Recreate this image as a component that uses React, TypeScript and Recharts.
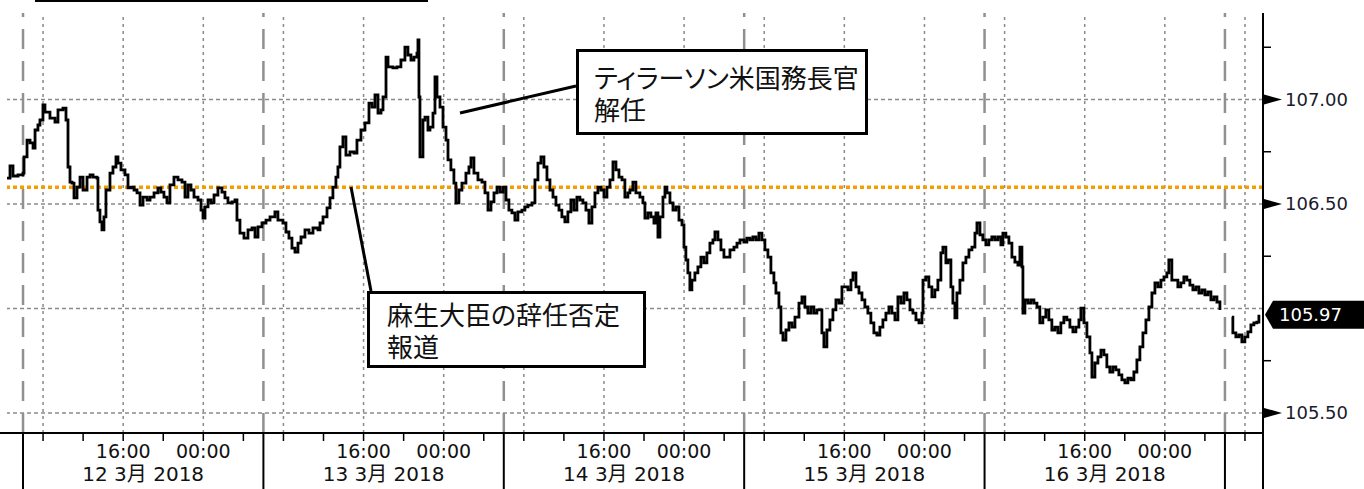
import React from 'react';
import { LineChart, Line, XAxis, YAxis, ReferenceLine } from 'recharts';

// Hours since 12 Mar 2018 00:00
const hours: number[] = [
  4.4, 4.7, 5.0, 5.5, 6.0, 6.1, 6.4, 6.7, 7.0, 7.2, 7.49, 7.69, 7.99, 8.19, 8.69, 9.19, 9.49, 9.99, 10.29, 10.49,
  10.69, 10.89, 11.09, 11.39, 11.69, 11.99, 12.39, 12.69, 12.99, 13.38, 13.48, 13.68, 13.88, 14.08, 14.28, 14.68, 14.98, 15.28, 15.48, 15.78,
  16.18, 16.48, 16.78, 17.08, 17.38, 17.68, 17.98, 18.38, 18.68, 19.08, 19.47, 19.77, 20.07, 20.37, 20.67, 21.07, 21.47, 21.87, 22.17, 22.47,
  22.77, 23.07, 23.47, 23.77, 23.97, 24.17, 24.47, 24.77, 25.07, 25.46, 25.86, 26.16, 26.46, 26.86, 27.16, 27.36, 27.66, 28.06, 28.46, 28.86,
  29.16, 29.46, 29.86, 30.26, 30.66, 31.15, 31.45, 31.95, 32.25, 32.55, 32.85, 33.15, 33.45, 33.75, 34.15, 34.55, 34.95, 35.45,
  35.65, 35.95, 36.35, 36.65, 36.94, 37.24, 37.44, 37.64, 37.94, 38.24, 38.64, 39.04, 39.34, 39.74, 40.14, 40.54, 40.84, 41.14, 41.44, 41.74,
  41.94, 42.24, 42.44, 42.93, 43.33, 43.73, 44.13, 44.43, 44.73, 45.03, 45.33, 45.43, 45.53, 45.63, 45.93, 46.13, 46.43, 46.63, 46.93, 47.13,
  47.33, 47.63, 47.93, 48.23, 48.43, 48.72, 49.02, 49.22, 49.52, 49.82, 50.22, 50.52, 50.72, 51.02, 51.42, 51.82, 52.12, 52.42, 52.72, 53.02,
  53.32, 53.62, 53.92, 54.22, 54.51, 54.81, 55.11, 55.41, 55.81, 56.11, 56.41, 56.81, 57.11, 57.41, 57.71, 58.01, 58.31, 58.61, 58.91, 59.21,
  59.51, 59.8, 60.1, 60.4, 60.7, 61.0, 61.3, 61.6, 61.9, 62.2, 62.5, 62.8, 63.1, 63.4, 63.7, 64.0, 64.3, 64.6, 64.9, 65.2,
  65.5, 65.8, 66.09, 66.39,
  66.59, 66.89, 67.19, 67.59, 67.89, 68.09, 68.39, 68.69, 68.99, 69.19, 69.39, 69.59, 69.89, 70.09, 70.29, 70.59, 70.89, 71.19, 71.49, 71.79,
  71.99, 72.18, 72.38, 72.58, 72.78, 73.08, 73.38, 73.68, 73.98, 74.28, 74.58, 74.88, 75.08, 75.38, 75.68, 75.98, 76.28, 76.58, 76.98, 77.28,
  77.58, 77.97, 78.27, 78.57, 78.87, 79.17, 79.47, 79.77, 80.07, 80.37, 80.67, 80.97, 81.17, 81.47, 81.67, 81.87, 82.17, 82.47, 82.77, 83.07,
  83.47, 83.77, 84.06, 84.36, 84.66, 84.96, 85.26, 85.56, 85.76, 85.96, 86.26, 86.56, 86.86, 87.16, 87.46, 87.76, 88.06, 88.36, 88.66, 88.86,
  89.16, 89.46, 89.76, 90.05, 90.35, 90.65, 90.95, 91.25, 91.55, 91.85, 92.15, 92.45, 92.75, 93.05, 93.35, 93.65, 93.95, 94.25, 94.55, 94.85,
  95.15, 95.45, 95.75, 95.85, 96.14, 96.44, 96.74, 97.04, 97.34, 97.64, 97.84, 98.14,
  98.34, 98.64, 98.84, 99.04, 99.24, 99.54, 99.84, 100.14, 100.44, 100.74, 101.04, 101.24, 101.54, 101.83, 102.13, 102.43, 102.73, 103.03, 103.33, 103.63,
  103.83, 104.13, 104.43, 104.73, 105.03, 105.33, 105.53, 105.73, 105.83, 106.03, 106.33, 106.63, 106.93, 107.23, 107.52, 107.82, 108.12, 108.42, 108.72, 109.02,
  109.32, 109.62, 109.92, 110.22, 110.52, 110.82, 111.12, 111.42, 111.62, 111.92, 112.22, 112.52, 112.72, 113.02, 113.32, 113.62, 113.92, 114.21, 114.51, 114.81,
  115.11, 115.41, 115.71, 116.01, 116.31, 116.61, 116.91, 117.21, 117.51, 117.81, 118.11, 118.41, 118.71, 119.01, 119.31, 119.61, 119.91, 120.2, 120.4, 120.7,
  121.0, 121.3, 121.6, 121.9, 122.2, 122.5, 122.8, 123.1, 123.4, 123.7, 124.0, 124.3, 124.6, 124.9, 125.2, 125.5, 126.0,
  126.69, 126.79, 127.09, 127.39, 127.69, 127.99, 128.29, 128.59, 128.89, 129.19, 129.39,
];

// USD/JPY
const prices: (number | null)[] = [
  106.624, 106.682, 106.634, 106.639, 106.648, 106.725, 106.806, 106.792, 106.768, 106.854, 106.878, 106.902, 106.974, 106.94, 106.911, 106.892, 106.95, 106.959, 106.902, 106.677,
  106.605, 106.6, 106.529, 106.581, 106.629, 106.567, 106.629, 106.639, 106.629, 106.624, 106.471, 106.414, 106.376, 106.438, 106.567, 106.648, 106.677, 106.725, 106.696, 106.663,
  106.639, 106.577, 106.581, 106.567, 106.553, 106.495, 106.533, 106.519, 106.533, 106.553, 106.577, 106.557, 106.533, 106.505, 106.591, 106.629, 106.615, 106.605, 106.533, 106.591,
  106.567, 106.533, 106.519, 106.471, 106.433, 106.486, 106.519, 106.505, 106.543, 106.577, 106.557, 106.529, 106.505, 106.51, 106.519, 106.423, 106.361, 106.337, 106.376, 106.385,
  106.342, 106.39, 106.409, 106.423, 106.438, 106.462, 106.423, 106.409, 106.366, 106.337, 106.289, 106.27, 106.313, 106.342, 106.376, 106.361, 106.385, 106.376,
  106.409, 106.438, 106.481, 106.529, 106.581, 106.629, 106.677, 106.773, 106.821, 106.734, 106.749, 106.744, 106.806, 106.854, 106.888, 106.983, 106.964, 107.022, 106.935, 106.95,
  107.012, 107.203, 107.156, 107.151, 107.156, 107.189, 107.251, 107.213, 107.189, 107.203, 107.222, 107.285, 107.012, 106.725, 106.902, 106.916, 106.854, 106.868, 106.935, 107.108,
  107.012, 106.964, 106.868, 106.806, 106.711, 106.663, 106.6, 106.505, 106.567, 106.6, 106.648, 106.677, 106.72, 106.648, 106.615, 106.605, 106.553, 106.471, 106.51, 106.553,
  106.581, 106.557, 106.581, 106.519, 106.471, 106.457, 106.423, 106.462, 106.471, 106.486, 106.495, 106.505, 106.615, 106.696, 106.725, 106.677, 106.615, 106.567, 106.533, 106.495,
  106.471, 106.438, 106.414, 106.462, 106.519, 106.471, 106.533, 106.519, 106.505, 106.471, 106.409, 106.486, 106.553, 106.581, 106.567, 106.533, 106.581, 106.615, 106.701, 106.663,
  106.629, 106.615, 106.533, 106.553,
  106.567, 106.605, 106.553, 106.533, 106.505, 106.433, 106.457, 106.438, 106.409, 106.457, 106.342, 106.438, 106.533, 106.581, 106.553, 106.505, 106.471, 106.486, 106.423, 106.4,
  106.294, 106.232, 106.17, 106.089, 106.136, 106.17, 106.199, 106.246, 106.218, 106.266, 106.313, 106.328, 106.366, 106.328, 106.28, 106.246, 106.246, 106.28, 106.294, 106.313,
  106.328, 106.318, 106.337, 106.328, 106.342, 106.328, 106.361, 106.328, 106.28, 106.246, 106.17, 106.122, 106.074, 106.007, 105.883, 105.849, 105.897, 105.931, 105.911, 105.959,
  106.026, 106.055, 106.007, 105.978, 106.007, 105.978, 105.993, 105.993, 105.883, 105.816, 105.897, 105.945, 105.993, 106.041, 106.026, 106.103, 106.103, 106.089, 106.136, 106.17,
  106.103, 106.074, 106.041, 106.007, 105.978, 105.931, 105.883, 105.873, 105.911, 105.945, 105.978, 106.007, 105.978, 105.945, 106.055, 106.026, 106.074, 106.041, 105.993, 105.978,
  105.945, 105.931, 105.978, 106.136, 106.151, 106.103, 106.055, 106.089, 106.136, 106.266, 106.294, 106.218,
  106.232, 106.103, 106.026, 105.955, 106.074, 106.136, 106.218, 106.246, 106.28, 106.294, 106.361, 106.409, 106.352, 106.328, 106.304, 106.328, 106.342, 106.328, 106.342, 106.304,
  106.361, 106.342, 106.313, 106.246, 106.222, 106.208, 106.294, 106.199, 105.978, 106.041, 106.026, 106.041, 106.026, 106.007, 105.931, 105.959, 105.993, 105.945, 105.897, 105.911,
  105.883, 105.931, 105.959, 105.945, 105.911, 105.888, 105.911, 105.945, 106.002, 105.931, 105.864, 105.787, 105.672, 105.739, 105.768, 105.801, 105.778, 105.72, 105.696, 105.72,
  105.706, 105.682, 105.658, 105.644, 105.667, 105.658, 105.696, 105.754, 105.816, 105.883, 105.945, 106.007, 106.074, 106.122, 106.103, 106.136, 106.151, 106.17, 106.232, 106.136,
  106.136, 106.103, 106.122, 106.151, 106.136, 106.112, 106.089, 106.103, 106.074, 106.089, 106.065, 106.079, 106.041, 106.055, 106.031, 105.993, null,
  105.959, 105.883, 105.864, 105.873, 105.84, 105.864, 105.888, 105.921, 105.931, 105.935, 105.97,
];

const sessionStarts = [6, 30, 54, 78, 102, 126];
const hourTicks = [8, 12, 16, 20, 24, 28, 32, 36, 40, 44, 48, 52, 56, 60, 64, 68, 72, 76, 80, 84, 88, 92, 96, 100, 104, 108, 112, 116, 120, 124, 128];
const dayCenters = [18, 42, 66, 90, 114];
const dayLabels = ['12 3月 2018', '13 3月 2018', '14 3月 2018', '15 3月 2018', '16 3月 2018'];
const dottedGrid = [8, 16, 24, 32, 40, 48, 56, 64, 72, 80, 88, 96, 104, 112, 120, 128];
const yGrid = [105.5, 106.0, 106.5, 107.0];
const yMajor = [105.5, 106.5, 107.0];
const yMinor = [105.75, 106.25, 106.75, 107.25];
const lastPrice = 105.97;
const refLevel = 106.58;

const data = hours.map((h, i) => ({ h, p: prices[i] }));

const FONT = '"DejaVu Sans", "Noto Sans CJK JP", sans-serif';
const JP = '"Noto Sans CJK JP", sans-serif';

function XTick(props: any) {
  const { x, y, payload } = props;
  const v = payload.value;
  if (sessionStarts.includes(v)) {
    return <line x1={x} y1={y} x2={x} y2={y + 56} stroke="#000" strokeWidth={2} />;
  }
  const di = dayCenters.indexOf(v);
  if (di >= 0) {
    return (
      <text x={x} y={y + 41} textAnchor="middle" dominantBaseline="central" fontFamily={FONT} fontSize={20} fill="#111">
        {dayLabels[di]}
      </text>
    );
  }
  const m = v % 24;
  const label = m === 16 ? '16:00' : m === 0 ? '00:00' : null;
  return (
    <g>
      <line x1={x} y1={y} x2={x} y2={y + 8} stroke="#000" strokeWidth={1.5} />
      {label && (
        <text x={x} y={y + 18} textAnchor="middle" dominantBaseline="central" fontFamily={FONT} fontSize={19} fill="#111">
          {label}
        </text>
      )}
    </g>
  );
}

function YTick(props: any) {
  const { x, y, payload } = props;
  const v = payload.value;
  if (v === lastPrice) {
    return (
      <g>
        <polygon points={`${x + 2},${y} ${x + 10},${y - 14} ${x + 101},${y - 14} ${x + 101},${y + 14} ${x + 10},${y + 14}`} fill="#000" />
        <text x={x + 16} y={y} dominantBaseline="central" fontFamily={FONT} fontSize={18} fill="#fff">
          {lastPrice.toFixed(2)}
        </text>
      </g>
    );
  }
  if (yMajor.includes(v)) {
    return (
      <g>
        <polygon points={`${x + 1},${y - 5} ${x + 19},${y} ${x + 1},${y + 5}`} fill="#000" />
        <text x={x + 22} y={y} dominantBaseline="central" fontFamily={FONT} fontSize={18} fill="#1a1a2e">
          {v.toFixed(2)}
        </text>
      </g>
    );
  }
  return <line x1={x} y1={y} x2={x + 8} y2={y} stroke="#000" strokeWidth={1.5} />;
}

const boxStyle: React.CSSProperties = {
  position: 'absolute',
  boxSizing: 'border-box',
  border: '3px solid #000',
  background: '#fff',
  fontFamily: JP,
  fontSize: 26,
  lineHeight: '32px',
  color: '#111',
  fontFeatureSettings: '"palt"',
  whiteSpace: 'pre',
};

export default function App() {
  return (
    <div style={{ position: 'absolute', left: 0, top: 0, width: 1364, height: 489, background: '#fff', overflow: 'hidden' }}>
      <LineChart width={1364} height={489} data={data} margin={{ top: 13, right: 0, bottom: 0, left: 7 }}>
        <XAxis
          dataKey="h"
          type="number"
          domain={[4.4, 129.8]}
          allowDataOverflow
          ticks={[...sessionStarts, ...hourTicks, ...dayCenters].sort((a, b) => a - b)}
          interval={0}
          height={56}
          tickSize={0}
          tickMargin={0}
          tickLine={false}
          axisLine={{ stroke: '#000', strokeWidth: 2 }}
          tick={(p: any) => <XTick {...p} />}
        />
        <YAxis
          orientation="right"
          width={101}
          domain={[105.404, 107.414]}
          allowDataOverflow
          ticks={[...yMinor, ...yMajor, lastPrice].sort((a, b) => a - b)}
          interval={0}
          tickSize={0}
          tickMargin={0}
          tickLine={false}
          axisLine={{ stroke: '#000', strokeWidth: 2 }}
          tick={(p: any) => <YTick {...p} />}
        />
        {yGrid.map((v) => (
          <ReferenceLine key={'hy' + v} y={v} stroke="#8a8a8a" strokeWidth={1.5} strokeDasharray="4 3" />
        ))}
        {dottedGrid.map((v) => (
          <ReferenceLine key={'dx' + v} x={v} stroke="#8a8a8a" strokeWidth={1.5} strokeDasharray="3 4" />
        ))}
        {sessionStarts.map((v) => (
          <ReferenceLine key={'sx' + v} x={v} stroke="#8e918e" strokeWidth={2.5} strokeDasharray="20 12" />
        ))}
        <ReferenceLine y={refLevel} stroke="#f59d00" strokeWidth={3.5} strokeDasharray="4 3" />
        <Line
          dataKey="p"
          type="stepAfter"
          stroke="#000"
          strokeWidth={2.8}
          dot={false}
          activeDot={false}
          connectNulls={false}
          isAnimationActive={false}
        />
      </LineChart>
      <svg width={1364} height={489} style={{ position: 'absolute', left: 0, top: 0, pointerEvents: 'none' }}>
        <rect x={35} y={0} width={393} height={2} fill="#000" />
        <line x1={0} y1={433} x2={8} y2={433} stroke="#000" strokeWidth={2} />
        <line x1={1263} y1={433} x2={1263} y2={489} stroke="#000" strokeWidth={2} />
        <line x1={460} y1={113} x2={576} y2={86} stroke="#000" strokeWidth={3} />
        <line x1={351} y1={187} x2={371} y2={291} stroke="#000" strokeWidth={3} />
      </svg>
      <div style={{ ...boxStyle, left: 576, top: 49, width: 292, height: 86, paddingLeft: 15, paddingTop: 9 }}>
        {'ティラーソン米国務長官\n解任'}
      </div>
      <div style={{ ...boxStyle, left: 367, top: 291, width: 279, height: 77, paddingLeft: 17, paddingTop: 4 }}>
        {'麻生大臣の辞任否定\n報道'}
      </div>
    </div>
  );
}
